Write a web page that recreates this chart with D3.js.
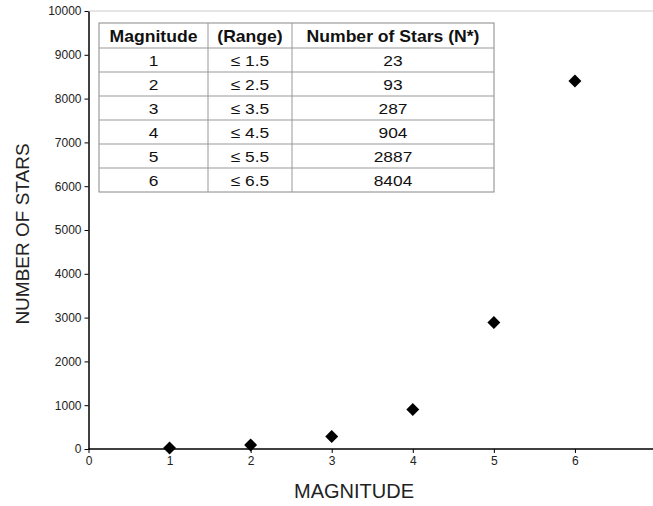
<!DOCTYPE html>
<html>
<head>
<meta charset="utf-8">
<script src="https://cdn.jsdelivr.net/npm/d3@7"></script>
<style>
    body { margin: 0; background: #fff; }
    svg { display: block; font-family: "Liberation Sans", Arial, sans-serif; }
    .tick text { font-size: 12px; fill: #222; }
    .axis path, .axis line { stroke: #000; }
</style>
</head>
<body>
<div id="chart"></div>
<script>
// data
const magnitudes = [1, 2, 3, 4, 5, 6];
const ranges = ["≤ 1.5", "≤ 2.5", "≤ 3.5", "≤ 4.5", "≤ 5.5", "≤ 6.5"];
const starCounts = [23, 93, 287, 904, 2887, 8404];
const tableHeaders = ["Magnitude", "(Range)", "Number of Stars (N*)"];

// margin convention
const svgWidth = 653,
    svgHeight = 506,
    margin = { top: 11, right: 0, bottom: 57, left: 88.5 },
    width = svgWidth - margin.left - margin.right,
    height = svgHeight - margin.top - margin.bottom;

let svgRoot = d3.select("#chart").append("svg")
    .attr("width", svgWidth)
    .attr("height", svgHeight);
let svg = svgRoot.append("g")
    .attr("transform", `translate(${margin.left},${margin.top})`);

// scales
let xScale = d3.scaleLinear()
    .domain([0, 7])
    .range([0, 567.5]);
let yScale = d3.scaleLinear()
    .domain([0, 10000])
    .range([height, 0]);

// top border of plot area
svg.append("line")
    .attr("x1", 0).attr("x2", width)
    .attr("y1", 0).attr("y2", 0)
    .attr("stroke", "#dcdcdc")
    .attr("stroke-width", 1.5);

// axes
let xAxis = svg.append("g")
    .attr("class", "axis")
    .attr("transform", `translate(0,${height})`)
    .call(d3.axisBottom(xScale).tickValues([0, 1, 2, 3, 4, 5, 6]).tickFormat(d3.format("d"))
        .tickSize(4).tickSizeOuter(0).tickPadding(3));
xAxis.select(".domain").attr("d", `M0,0H${width}`).attr("stroke-width", 1.5);

let yAxis = svg.append("g")
    .attr("class", "axis")
    .call(d3.axisLeft(yScale).ticks(10).tickSize(4).tickSizeOuter(0).tickFormat(d3.format("d")).tickPadding(3));
yAxis.select(".domain").attr("stroke-width", 1.5);

// axis labels
svgRoot.append("text")
    .attr("x", 354)
    .attr("y", 498)
    .attr("text-anchor", "middle")
    .attr("font-size", 20)
    .attr("fill", "#222")
    .text("MAGNITUDE");
svgRoot.append("text")
    .attr("transform", "translate(29,234) rotate(-90)")
    .attr("text-anchor", "middle")
    .attr("font-size", 19)
    .attr("fill", "#222")
    .text("NUMBER OF STARS");

// points
svg.selectAll("path.point")
    .data(magnitudes)
    .join("path")
    .attr("class", "point")
    .attr("d", d3.symbol(d3.symbolSquare, 84))
    .attr("transform", (d, i) => `translate(${xScale(d)},${yScale(starCounts[i])}) rotate(45)`)
    .attr("fill", "#000");

// table
const tableX = 99, tableY = 23,
    colX = [99, 208, 292, 494],
    headerH = 25, rowH = 24;
let table = svgRoot.append("g");
let tableBottom = tableY + headerH + rowH * magnitudes.length;

table.append("rect")
    .attr("x", tableX).attr("y", tableY)
    .attr("width", colX[3] - colX[0])
    .attr("height", tableBottom - tableY)
    .attr("fill", "#fff")
    .attr("stroke", "#888");

// row lines
d3.range(magnitudes.length).forEach((i) => {
    let y = tableY + headerH + rowH * i;
    table.append("line")
        .attr("x1", colX[0]).attr("x2", colX[3])
        .attr("y1", y).attr("y2", y)
        .attr("stroke", "#999");
});
// column lines
[colX[1], colX[2]].forEach((x) => {
    table.append("line")
        .attr("x1", x).attr("x2", x)
        .attr("y1", tableY).attr("y2", tableBottom)
        .attr("stroke", "#999");
});

const colCenter = [0, 1, 2].map((c) => (colX[c] + colX[c + 1]) / 2);

// text in the reference is a little wider than it is tall
table.selectAll("text.hdr")
    .data(tableHeaders)
    .join("text")
    .attr("class", "hdr")
    .attr("transform", (d, i) => `translate(${colCenter[i]},${tableY + 19}) scale(1.1,1)`)
    .attr("text-anchor", "middle")
    .attr("font-size", 16)
    .attr("font-weight", "bold")
    .attr("fill", "#111")
    .text((d) => d);

magnitudes.forEach((m, i) => {
    let y = tableY + headerH + rowH * i + 18;
    [m, ranges[i], starCounts[i]].forEach((v, c) => {
        table.append("text")
            .attr("transform", `translate(${colCenter[c]},${y}) scale(1.12,1)`)
            .attr("text-anchor", "middle")
            .attr("font-size", 15.5)
            .attr("fill", "#111")
            .text(v);
    });
});
</script>
</body>
</html>
